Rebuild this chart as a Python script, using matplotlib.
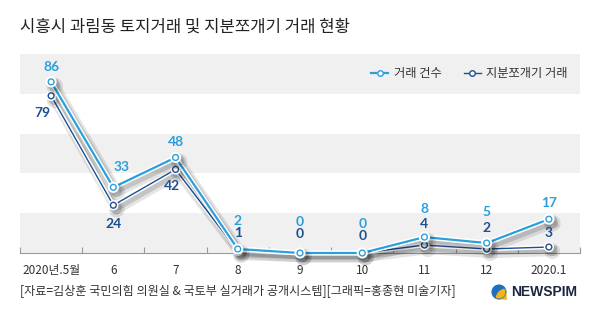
import numpy as np
import matplotlib
matplotlib.use("Agg")
import matplotlib.pyplot as plt
import matplotlib.patheffects as pe
from matplotlib.lines import Line2D
from matplotlib.patches import Circle, Wedge

# ---- data ----
categories = ["2020년.5월", "6", "7", "8", "9", "10", "11", "12", "2020.1"]
total_deals = [86, 33, 48, 2, 0, 0, 8, 5, 17]
split_deals = [79, 24, 42, 1, 0, 0, 4, 2, 3]
series_names = ["거래 건수", "지분쪼개기 거래"]
title = "시흥시 과림동 토지거래 및 지분쪼개기 거래 현황"
source = "[자료=김상훈 국민의힘 의원실 & 국토부 실거래가 공개시스템][그래픽=홍종현 미술기자]"

# ---- styles ----
LIGHT = "#2a9fdc"
DARK = "#1d4f91"
BAND = "#f0f0f0"
KR = ["Noto Sans CJK KR", "DejaVu Sans"]
NUM = ["Lato", "DejaVu Sans"]
light_off = [(0, 15), (8, 20), (0, 15), (0, 28), (0, 31), (0, 29), (0, 28), (0, 31), (0, 16)]
dark_off = [(-9, -17), (0, -19), (-4, -17), (0, 18), (0, 19), (0, 17), (0, 21), (0, 21), (0, 14)]

fig = plt.figure(figsize=(6, 3.18), dpi=100)
ax = fig.add_axes([20 / 600, 1 - 253 / 318, 560 / 600, 199 / 318])
x = np.arange(len(categories))
ax.set_xlim(-0.5, len(categories) - 0.5)
ax.set_ylim(0, 100)

for lo in (0, 40, 80):
    ax.axhspan(lo, lo + 20, color=BAND, zorder=0, lw=0)

for s in ("top", "left", "right"):
    ax.spines[s].set_visible(False)
ax.spines["bottom"].set_color("#9a9a9a")
ax.spines["bottom"].set_linewidth(0.8)
ax.set_yticks([])
ax.set_xticks(np.arange(-0.5, len(categories), 1))
ax.set_xticklabels([])
ax.tick_params(axis="x", which="major", direction="in", length=4, color="#9a9a9a", width=0.8)
ax.set_xticks(x, minor=True)
ax.set_xticklabels(categories, minor=True, fontfamily=KR, fontsize=8.5, color="#333333")
ax.tick_params(axis="x", which="minor", length=0, pad=8)

def shadow_effects(lw_white):
    return [pe.SimpleLineShadow(offset=(2.5, -3.0), shadow_color="black", alpha=0.10, linewidth=lw_white + 4),
            pe.SimpleLineShadow(offset=(2.0, -2.4), shadow_color="black", alpha=0.14, linewidth=lw_white + 1),
            pe.Stroke(linewidth=lw_white, foreground="white"), pe.Normal()]

ax.plot(x, split_deals, color=DARK, lw=1.0, marker="o", ms=4.2, mfc="white", mec=DARK, mew=1.0,
        clip_on=False, zorder=3, path_effects=shadow_effects(3.2))
ax.plot(x, total_deals, color=LIGHT, lw=1.6, marker="o", ms=4.2, mfc="white", mec=LIGHT, mew=1.0,
        clip_on=False, zorder=4, path_effects=shadow_effects(3.8))

for xi, v, off in zip(x, total_deals, light_off):
    ax.annotate(str(v), (xi, v), xytext=off, textcoords="offset pixels", ha="center", va="center",
                color=LIGHT, fontsize=10, fontweight="bold", fontfamily=NUM, zorder=6, annotation_clip=False)
for xi, v, off in zip(x, split_deals, dark_off):
    ax.annotate(str(v), (xi, v), xytext=off, textcoords="offset pixels", ha="center", va="center",
                color=DARK, fontsize=10, fontweight="bold", fontfamily=NUM, zorder=6, annotation_clip=False)

handles = [Line2D([], [], color=LIGHT, lw=1.6, marker="o", ms=4, mfc="white", mec=LIGHT),
           Line2D([], [], color=DARK, lw=1.0, marker="o", ms=4, mfc="white", mec=DARK)]
leg = ax.legend(handles, series_names, loc="center right", bbox_to_anchor=(1.0, 0.9), ncol=2,
                frameon=False, prop={"family": KR, "size": 8.8}, handlelength=1.4, handletextpad=0.45,
                columnspacing=1.8, borderaxespad=0.6)
for t in leg.get_texts():
    t.set_color("#333333")

fig.text(20 / 600, 1 - 27 / 318, title, fontfamily=KR, fontsize=12, fontweight="medium",
         color="#222222", va="center", ha="left")
fig.text(20 / 600, 1 - 292 / 318, source, fontfamily=KR, fontsize=8.7, color="#333333", va="center", ha="left")

# logo
lax = fig.add_axes([490 / 600, 1 - 300 / 318, 18 / 600, 16 / 318])
lax.set_xlim(-1, 1)
lax.set_ylim(-1, 1)
lax.set_aspect("equal")
lax.axis("off")
lax.add_patch(Circle((0, 0), 0.85, color="#1e6fbf"))
lax.add_patch(Wedge((0.9, -0.9), 1.25, 95, 175, color="#f2b51a"))
lax.add_patch(Circle((0, 0), 0.85, fill=False, ec="#1e6fbf", lw=0.5))
fig.text(511 / 600, 1 - 292 / 318, "NEWSPIM", fontfamily=["Liberation Sans"], fontweight="bold",
         fontsize=10, color="#1b2740", va="center", ha="left")

fig.savefig("out.png", dpi=100, facecolor="white")
